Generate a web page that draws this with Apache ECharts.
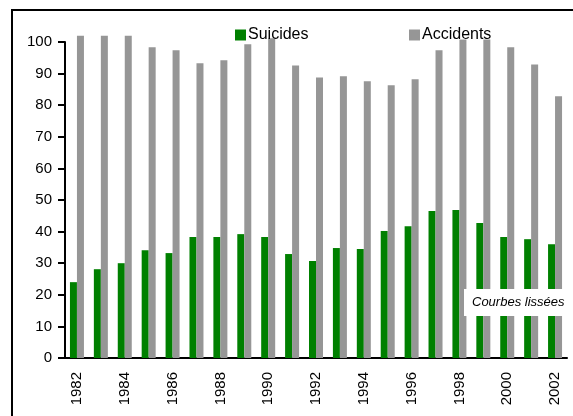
<!DOCTYPE html>
<html>
<head>
<meta charset="utf-8">
<script src="https://cdn.jsdelivr.net/npm/echarts@6/dist/echarts.min.js"></script>
<style>
  html, body { margin: 0; padding: 0; background: #fff; overflow: hidden; }
  #chart { position: absolute; left: 0; top: 0; width: 573px; height: 416px; }
  #frame {
    position: absolute; left: 11px; top: 9px; width: 600px; height: 450px;
    border-top: 2px solid #000; border-left: 2px solid #000; pointer-events: none;
  }
</style>
</head>
<body>
<div id="chart"></div>
<div id="frame"></div>
<script>
// years 1982..2002
const years = ["1982", "1983", "1984", "1985", "1986", "1987", "1988", "1989", "1990", "1991",
  "1992", "1993", "1994", "1995", "1996", "1997", "1998", "1999", "2000", "2001", "2002"];
const suicides = [24, 28.1, 30, 34.1, 33.2, 38.3, 38.3, 39.2, 38.3, 32.9,
  30.7, 34.8, 34.5, 40.2, 41.7, 46.5, 46.8, 42.7, 38.3, 37.6, 36];
const accidents = [102, 102, 102, 98.3, 97.4, 93.3, 94.2, 99.3, 101.2, 92.6,
  88.8, 89.2, 87.6, 86.3, 88.2, 97.4, 100.8, 100.8, 98.3, 92.9, 82.8];

const font = "Liberation Sans, Arial, sans-serif";
const chart = echarts.init(document.getElementById("chart"));

chart.setOption({
  animation: false,
  title: {
    text: "Courbes lissées",
    left: 464,
    top: 289,
    padding: [7, 4, 7, 8],
    backgroundColor: "#fff",
    textStyle: { fontFamily: font, fontSize: 13, fontStyle: "italic", fontWeight: "normal", color: "#000" },
    z: 10
  },
  legend: [
    {
      data: ["Suicides"],
      left: 235,
      top: 27,
      padding: 0,
      icon: "rect",
      itemWidth: 11,
      itemHeight: 11,
      textStyle: { fontFamily: font, fontSize: 16, color: "#000", padding: [0, 0, 0, -3] }
    },
    {
      data: ["Accidents"],
      left: 409,
      top: 27,
      padding: 0,
      icon: "rect",
      itemWidth: 11,
      itemHeight: 11,
      textStyle: { fontFamily: font, fontSize: 16, color: "#000", padding: [0, 0, 0, -3] }
    }
  ],
  grid: { left: 65, right: 6, top: 42, bottom: 58 },
  xAxis: {
    type: "category",
    data: years,
    axisLine: { lineStyle: { color: "#000", width: 2 } },
    axisTick: { interval: 0, length: 7, lineStyle: { color: "#000", width: 2 } },
    axisLabel: {
      interval: 1,
      rotate: 90,
      margin: 14,
      fontFamily: font,
      fontSize: 15,
      color: "#000"
    },
    splitLine: { show: false }
  },
  yAxis: {
    type: "value",
    min: 0,
    max: 100,
    interval: 10,
    axisLine: { show: true, lineStyle: { color: "#000", width: 2 } },
    axisTick: { show: true, length: 7, lineStyle: { color: "#000", width: 2 } },
    axisLabel: { margin: 13, fontFamily: font, fontSize: 15, color: "#000" },
    splitLine: { show: false }
  },
  series: [
    {
      name: "Suicides",
      type: "bar",
      data: suicides,
      barWidth: 7,
      barGap: "0%",
      clip: false,
      itemStyle: { color: "#008000" }
    },
    {
      name: "Accidents",
      type: "bar",
      data: accidents,
      barWidth: 7,
      barGap: "0%",
      clip: false,
      itemStyle: { color: "#969696" }
    }
  ]
});
</script>
</body>
</html>
